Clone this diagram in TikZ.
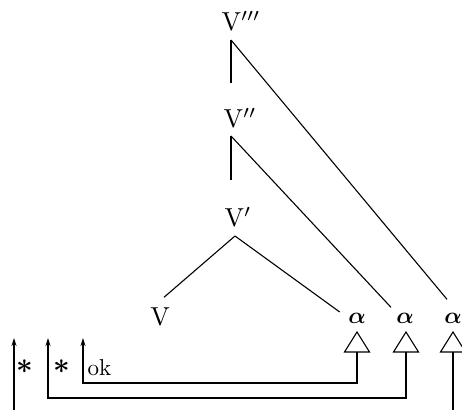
\documentclass[tikz,border=0pt]{standalone}
\usepackage{amsmath,amssymb}
\usepackage{bm}
\usetikzlibrary{arrows.meta,positioning,calc}

\newcommand{\bigtxt}[2]{\scalebox{#1}{#2}}

\begin{document}
\begin{tikzpicture}[x=1pt,y=-1pt,line width=1.1pt,
    lbl/.style={inner sep=0pt},
    mv/.style={-{Stealth[length=8pt,width=5pt]}}]
    \useasboundingbox (0,0) rectangle (462,410);

    % Labels of the tree
    \node[lbl] (v3) at (241,21) {\bigtxt{2.6}{V$'''$}};
    \node[lbl] (v2) at (240,118) {\bigtxt{2.6}{V$''$}};
    \node[lbl] (v1) at (238,217) {\bigtxt{2.6}{V$'$}};
    \node[lbl] (v) at (160,317) {\bigtxt{2.6}{V}};
    \foreach \n/\x in {1/357, 2/405, 3/453} {
        \node[lbl] (a\n) at (\x,318) {\bigtxt{2.3}{$\bm{\alpha}$}};
    }

    % Branch points
    \coordinate (b3) at (231,40);
    \coordinate (b3end) at (231,83);
    \coordinate (b2) at (231,136);
    \coordinate (b2end) at (231,180);
    \coordinate (b1) at (235,236);

    % Branches
    \draw (b3) -- ($(a3.north)+(-6,-13)$);
    \draw (b3) -- (b3end);
    \draw (b2) -- (b2end);
    \draw (b2) -- ($(a2.north)+(-14,-5)$);
    \draw (b1) -- ($(v.north)+(4,-10)$);
    \draw (b1) -- ($(a1.west)+(-8,-6)$);

    % Triangles under alpha
    \foreach \n/\x in {1/357, 2/406, 3/453} {
        \draw (\x,332) coordinate (t\n) -- (\x+12.5,352) -- (\x-12.5,352) -- cycle;
        \coordinate (s\n) at (\x,352);
    }

    % Movement paths
    \coordinate (ok) at (83,338);
    \coordinate (st2) at (48,338);
    \coordinate (st1) at (14,338);
    \draw[mv] (s1) -- (357,383) -| (ok);
    \draw[mv] (s2) -- (406,398) -| (st2);
    \draw (s3) -- (453,410);
    \draw[mv] (14,410) -- (st1);

    % Judgements
    \node[lbl] (j1) at (25,367) {\bigtxt{2.9}{$\bm{\ast}$}};
    \node[lbl] (j2) at (62,367) {\bigtxt{2.9}{$\bm{\ast}$}};
    \node[lbl,anchor=base west] (j3) at (87,375) {\bigtxt{2.3}{ok}};
\end{tikzpicture}
\end{document}
